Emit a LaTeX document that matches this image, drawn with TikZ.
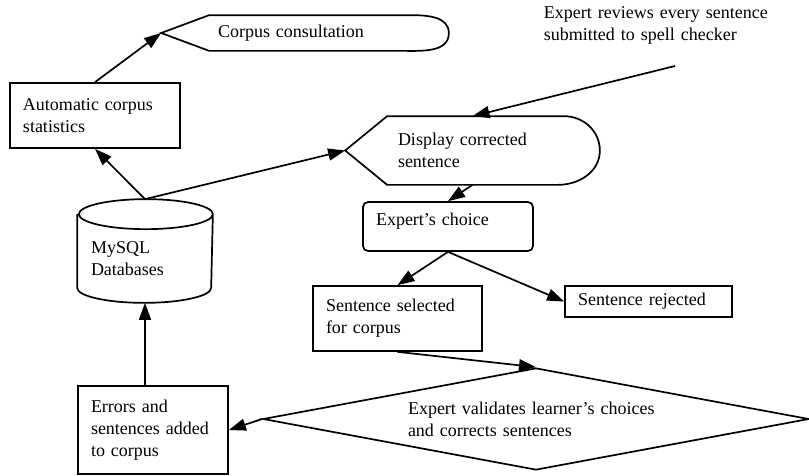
\documentclass[tikz,border=0pt]{standalone}
\usepackage{fontspec}
\setmainfont{Liberation Serif}
\usetikzlibrary{arrows.meta,shapes.geometric,positioning}

\begin{document}
\begin{tikzpicture}[x=1pt,y=-1pt,line width=1.7pt,
    >={Triangle[length=17pt,width=12pt]},
    every node/.style={font=\fontsize{18}{22}\selectfont,align=left},
    box/.style={draw,rectangle,inner xsep=13pt,inner ysep=4pt},
    disp/.style={rectangle,inner sep=0pt},
    decide/.style={draw,diamond,inner sep=0pt,aspect=5.35}]
  \useasboundingbox (0,0) rectangle (809,475);

  \node[disp]  (consult)  at (305,33)    [minimum width=286pt,minimum height=34pt,text width=174pt] {Corpus consultation};
  \node[box]   (stats)    at (95,115.5)  [minimum width=170pt,minimum height=65pt,text width=144pt] {Automatic corpus\\statistics};
  \node[disp]  (disp)     at (472.5,150.5)[minimum width=253pt,minimum height=67pt,text width=149pt] {Display corrected\\sentence};
  \node[disp]  (db)       at (145,258.5) [minimum width=134pt,minimum height=87pt,text width=108pt] {MySQL\\Databases};
  \node[box,rounded corners=5pt] (choice) at (448,226.5) [minimum width=170pt,minimum height=49pt,text width=144pt,text depth=14pt] {Expert's choice};
  \node[box]   (selected) at (397.5,318.5)[minimum width=169pt,minimum height=65pt,text width=143pt] {Sentence selected\\for corpus};
  \node[box]   (rejected) at (648.5,301.5)[minimum width=167pt,minimum height=31pt,text width=141pt] {Sentence rejected};
  \node[decide] (valid)   at (536,419)   [minimum width=546pt,minimum height=102pt,text width=256pt] {Expert validates learner's choices\\and corrects sentences};
  \node[box]   (errors)   at (153,430)   [minimum width=150pt,minimum height=88pt,text width=124pt] {Errors and\\sentences added\\to corpus};
  \node[inner sep=0pt,anchor=north west,text width=262pt] (note) at (543,6) {Expert reviews every sentence\\submitted to spell checker};

  \coordinate (dbtop) at ([yshift=15pt]db.north);
  \coordinate (rev)   at (675,66);

  % display outlines
  \draw (consult.west) -- ([xshift=48pt]consult.north west) -- ([xshift=-38pt]consult.north east)
        to[out=0,in=90] (consult.east) to[out=-90,in=0] ([xshift=-48pt]consult.south east)
        -- ([xshift=48pt]consult.south west) -- cycle;
  \draw (disp.west) -- ([xshift=42pt]disp.north west) -- ([xshift=-36pt]disp.north east)
        to[out=0,in=90] (disp.east) to[out=-90,in=0] ([xshift=-42pt]disp.south east)
        -- ([xshift=42pt]disp.south west) -- cycle;
  % database
  \draw (db.north west) -- ([yshift=15pt]db.south west)
        arc[start angle=180,end angle=360,x radius=67pt,y radius=15pt]
        -- (db.north east)
        arc[start angle=0,end angle=360,x radius=67pt,y radius=15pt];

  \path[->] (stats.north)    edge (consult.west)
            (dbtop)          edge (stats.south)
                             edge (disp.west)
            (rev)            edge (disp.north)
            (disp.south)     edge (choice.north)
            (choice.south)   edge (selected.north)
                             edge (rejected.west)
            (selected.south) edge (valid.north)
            (valid.west)     edge (errors.east)
            (db.south |- errors.north) edge (db.south);
\end{tikzpicture}
\end{document}
